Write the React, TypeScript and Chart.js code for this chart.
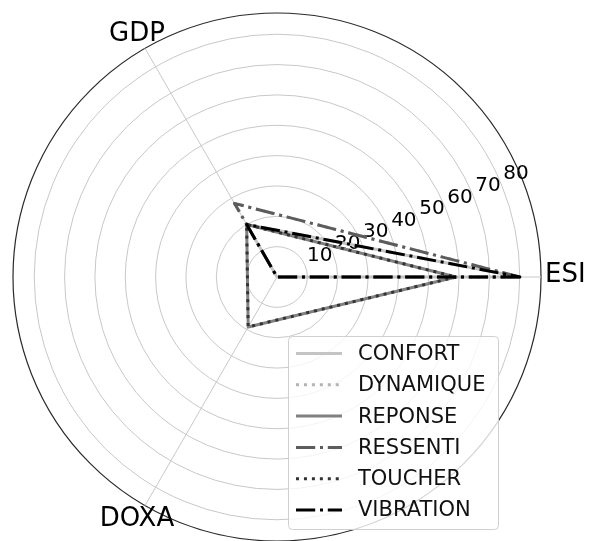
import React, { useEffect, useRef } from 'react';
import { Chart, registerables } from 'chart.js';

Chart.register(...registerables);

// Axes in matplotlib order (counter-clockwise from the right)
const categories = ['ESI', 'GDP', 'DOXA'];
const seriesNames = ['CONFORT', 'DYNAMIQUE', 'REPONSE', 'RESSENTI', 'TOUCHER', 'VIBRATION'];
// values per series, in categories order [ESI, GDP, DOXA]
const confort = [80, 20, 0];
const dynamique = [80, 28, 0];
const reponse = [59, 20, 19];
const ressenti = [80, 28, 0];
const toucher = [59, 20, 19];
const vibration = [80, 20, 0];
const tickValues = [10, 20, 30, 40, 50, 60, 70, 80];
const rMax = 87;

const seriesValues = [confort, dynamique, reponse, ressenti, toucher, vibration];

const LW = 3;
const DOT = [LW * 1, LW * 1.65];
const DASHDOT = [LW * 6.4, LW * 1.6, LW * 1, LW * 1.6];
const seriesStyles = [
  { color: '#c4c4c4', dash: [] as number[] },
  { color: '#b4b4b4', dash: DOT },
  { color: '#808080', dash: [] as number[] },
  { color: '#5c5c5c', dash: DASHDOT },
  { color: '#333333', dash: DOT },
  { color: '#000000', dash: DASHDOT },
];

const FONT = '"DejaVu Sans", sans-serif';

// Chart.js goes clockwise, matplotlib counter-clockwise: reorder
const order = [0, ...categories.slice(1).map((_, i) => categories.length - 1 - i)];
const chartLabels = order.map((i) => categories[i]);

const overlayPlugin = {
  id: 'overlay',
  beforeDatasetsDraw(chart: any) {
    const scale = chart.scales.r;
    const ctx = chart.ctx;
    ctx.save();
    ctx.font = `20px ${FONT}`;
    ctx.fillStyle = '#000';
    ctx.textAlign = 'left';
    ctx.textBaseline = 'bottom';
    const a = (22.5 * Math.PI) / 180;
    tickValues.forEach((v) => {
      const d = scale.getDistanceFromCenterForValue(v);
      const x = scale.xCenter + d * Math.cos(a) + 2;
      const y = scale.yCenter - d * Math.sin(a);
      ctx.fillText(String(v), x, y);
    });
    ctx.restore();
  },
  afterDraw(chart: any) {
    const scale = chart.scales.r;
    const ctx = chart.ctx;
    ctx.save();
    // axis labels
    ctx.font = `26px ${FONT}`;
    ctx.fillStyle = '#000';
    ctx.textBaseline = 'middle';
    chartLabels.forEach((lab, i) => {
      const ang = scale.getIndexAngle(i) - Math.PI / 2;
      const c = Math.cos(ang);
      if (Math.abs(c) > 0.9) {
        const p = scale.getPointPosition(i, scale.drawingArea + 4);
        ctx.textAlign = c > 0 ? 'left' : 'right';
        ctx.fillText(lab, p.x, p.y - 2);
      } else {
        const p = scale.getPointPosition(i, scale.drawingArea + 16);
        ctx.textAlign = 'center';
        ctx.fillText(lab, p.x, p.y);
      }
    });
    // legend
    const bx = 288.5, by = 336.5, bw = 210, bh = 193, rad = 4;
    ctx.beginPath();
    ctx.moveTo(bx + rad, by);
    ctx.lineTo(bx + bw - rad, by);
    ctx.quadraticCurveTo(bx + bw, by, bx + bw, by + rad);
    ctx.lineTo(bx + bw, by + bh - rad);
    ctx.quadraticCurveTo(bx + bw, by + bh, bx + bw - rad, by + bh);
    ctx.lineTo(bx + rad, by + bh);
    ctx.quadraticCurveTo(bx, by + bh, bx, by + bh - rad);
    ctx.lineTo(bx, by + rad);
    ctx.quadraticCurveTo(bx, by, bx + rad, by);
    ctx.closePath();
    ctx.fillStyle = 'rgba(255,255,255,0.8)';
    ctx.fill();
    ctx.strokeStyle = '#d0d0d0';
    ctx.lineWidth = 1;
    ctx.stroke();
    ctx.font = `21px ${FONT}`;
    ctx.textAlign = 'left';
    ctx.textBaseline = 'middle';
    chart.data.datasets.forEach((ds: any, i: number) => {
      const y = 353.5 + i * 31.3;
      ctx.beginPath();
      ctx.setLineDash(ds.borderDash || []);
      ctx.lineCap = 'butt';
      ctx.strokeStyle = ds.borderColor;
      ctx.lineWidth = ds.borderWidth;
      ctx.moveTo(296, y);
      ctx.lineTo(342, y);
      ctx.stroke();
      ctx.setLineDash([]);
      ctx.fillStyle = '#111';
      ctx.fillText(ds.label, 358, y + 1);
    });
    ctx.restore();
  },
};

export default function App() {
  const ref = useRef<HTMLCanvasElement | null>(null);
  useEffect(() => {
    if (!ref.current) return;
    const datasets = seriesNames.map((name, i) => ({
      label: name,
      data: order.map((k) => seriesValues[i][k]),
      borderColor: seriesStyles[i].color,
      borderDash: seriesStyles[i].dash,
      borderWidth: LW,
      backgroundColor: 'transparent',
      fill: false,
      pointRadius: 0,
      pointHoverRadius: 0,
      tension: 0,
      borderCapStyle: 'butt',
      borderJoinStyle: 'round',
      order: seriesNames.length - i,
    }));
    const chart = new Chart(ref.current, {
      type: 'radar',
      data: { labels: chartLabels, datasets },
      options: {
        responsive: false,
        animation: false,
        events: [],
        layout: { padding: { left: 0, right: 34, top: 13, bottom: 0 } },
        plugins: { legend: { display: false }, tooltip: { enabled: false } },
        scales: {
          r: {
            min: 0,
            max: rMax,
            startAngle: 90,
            ticks: { display: false, stepSize: 10 },
            pointLabels: { display: false },
            grid: {
              circular: true,
              color: (c: any) => (c.tick && c.tick.value >= rMax ? '#2a2a2a' : '#c8c8c8'),
              lineWidth: (c: any) => (c.tick && c.tick.value >= rMax ? 1.2 : 1),
            },
            angleLines: { color: '#c8c8c8', lineWidth: 1 },
          },
        },
      } as any,
      plugins: [overlayPlugin],
    } as any);
    return () => chart.destroy();
  }, []);
  return (
    <div style={{ position: 'fixed', left: 0, top: 0, width: 589, height: 541, background: '#fff' }}>
      <canvas ref={ref} width={589} height={541} style={{ width: 589, height: 541, display: 'block' }} />
    </div>
  );
}
